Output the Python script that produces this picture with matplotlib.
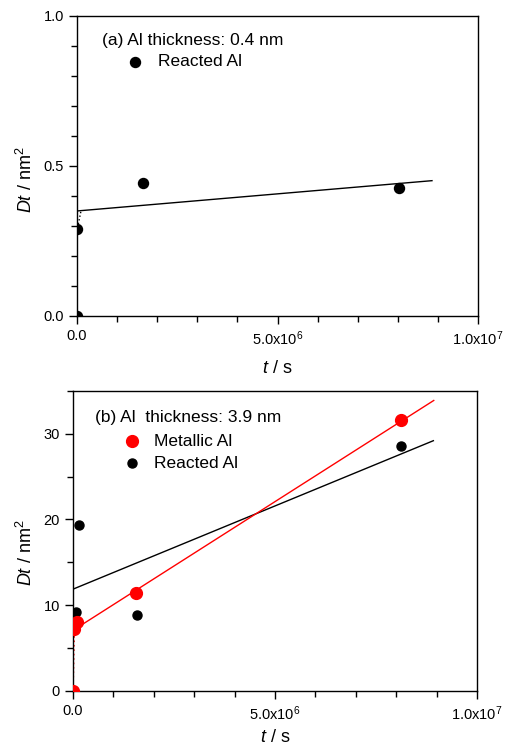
import matplotlib
matplotlib.use("Agg")
import matplotlib.pyplot as plt
from matplotlib.ticker import MultipleLocator, FixedLocator

plt.rcParams['font.family'] = ['Liberation Sans', 'DejaVu Sans']
plt.rcParams['mathtext.fontset'] = 'custom'
plt.rcParams['mathtext.rm'] = 'Liberation Sans'
plt.rcParams['mathtext.it'] = 'Liberation Sans:italic'

# Panel (a): reacted Al, 0.4 nm
a_t = [0.0, 0.01e6, 1.65e6, 8.04e6]
a_dt = [0.0, 0.29, 0.443, 0.428]
a_fit_t = [0.0, 8.85e6]
a_fit_dt = [0.35, 0.451]
a_dot_t = [0.0, 0.01e6, 0.1e6]
a_dot_dt = [0.0, 0.29, 0.35]

# Panel (b): 3.9 nm
b_met_t = [0.0, 0.03e6, 0.1e6, 1.56e6, 8.11e6]
b_met_dt = [0.0, 7.2, 8.0, 11.4, 31.6]
b_rea_t = [0.0, 0.07e6, 0.14e6, 1.58e6, 8.11e6]
b_rea_dt = [0.0, 9.2, 19.35, 8.85, 28.6]
b_met_fit_t = [0.2e6, 8.93e6]
b_met_fit_dt = [7.65, 33.9]
b_rea_fit_t = [0.0, 8.92e6]
b_rea_fit_dt = [11.86, 29.2]
b_dot_t = [0.0, 0.03e6]
b_dot_dt = [0.0, 7.2]

xticks = [0, 5e6, 1e7]
xticklabels = ['0.0', r'5.0x10$^{6}$', r'1.0x10$^{7}$']

fig = plt.figure(figsize=(5.13, 7.52), dpi=100)
ax1 = fig.add_axes([0.150, 0.5798, 0.782, 0.399])
ax2 = fig.add_axes([0.1423, 0.0815, 0.7875, 0.3985])

FS = 10.5
LFS = 13
TFS = 12.5

def style(ax, xpad, ylab_y):
    ax.set_xlim(0, 1e7)
    ax.xaxis.set_major_locator(FixedLocator(xticks))
    ax.set_xticklabels(xticklabels, fontsize=FS)
    ax.xaxis.set_minor_locator(MultipleLocator(1e6))
    ax.tick_params(which='both', direction='out', top=False, right=False, width=1)
    ax.tick_params(which='major', length=6, labelsize=FS)
    ax.tick_params(which='minor', length=4)
    for s in ax.spines.values():
        s.set_linewidth(1)
    ax.set_xlabel(r'$\it{t}$ / s', fontsize=LFS, labelpad=xpad)
    ax.set_ylabel(r'$\it{Dt}$ / nm$^{2}$', fontsize=LFS, labelpad=5)
    ax.yaxis.label.set_y(ylab_y)

# top
ax1.plot(a_dot_t, a_dot_dt, ls=':', color='black', lw=1)
ax1.plot(a_fit_t, a_fit_dt, '-', color='black', lw=1)
ax1.plot(a_t, a_dt, 'o', color='black', ms=7.2, zorder=5)
ax1.set_ylim(0, 1.0)
ax1.yaxis.set_major_locator(FixedLocator([0, 0.5, 1.0]))
ax1.yaxis.set_minor_locator(MultipleLocator(0.1))
style(ax1, 9, 0.453)
ax1.text(0.0616, 0.917, '(a) Al thickness: 0.4 nm', transform=ax1.transAxes, fontsize=TFS, va='center')
ax1.plot([0.145], [0.847], 'o', color='black', ms=7.2, transform=ax1.transAxes)
ax1.text(0.202, 0.847, 'Reacted Al', transform=ax1.transAxes, fontsize=TFS, va='center')

# bottom
ax2.plot(b_dot_t, b_dot_dt, ls=':', color='red', lw=1.2)
ax2.plot(b_rea_fit_t, b_rea_fit_dt, '-', color='black', lw=1)
ax2.plot(b_met_fit_t, b_met_fit_dt, '-', color='red', lw=1)
ax2.plot(b_rea_t, b_rea_dt, 'o', color='black', ms=6.5, zorder=5)
ax2.plot(b_met_t, b_met_dt, 'o', color='red', ms=8.5, zorder=6)
ax2.set_ylim(0, 35)
ax2.yaxis.set_major_locator(FixedLocator([0, 10, 20, 30]))
ax2.yaxis.set_minor_locator(MultipleLocator(5))
style(ax2, 5, 0.46)
ax2.text(0.054, 0.912, '(b) Al  thickness: 3.9 nm', transform=ax2.transAxes, fontsize=TFS, va='center')
ax2.plot([0.145], [0.833], 'o', color='red', ms=8.5, transform=ax2.transAxes)
ax2.text(0.2, 0.833, 'Metallic Al', transform=ax2.transAxes, fontsize=TFS, va='center')
ax2.plot([0.145], [0.759], 'o', color='black', ms=6.5, transform=ax2.transAxes)
ax2.text(0.2, 0.759, 'Reacted Al', transform=ax2.transAxes, fontsize=TFS, va='center')

fig.savefig('out.png', dpi=100)
